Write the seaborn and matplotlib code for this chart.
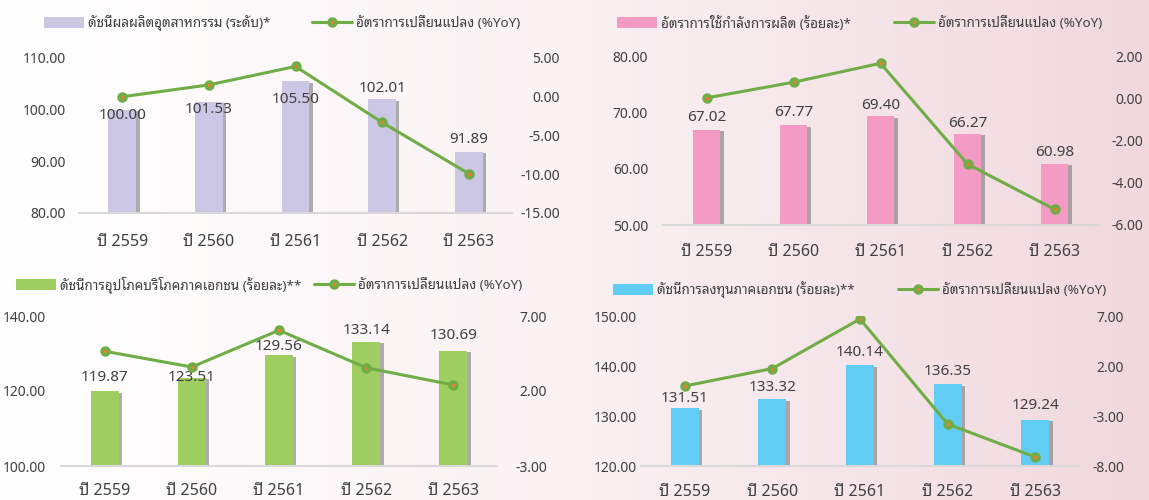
import numpy as np
import pandas as pd
import matplotlib
matplotlib.use("Agg")
import matplotlib.pyplot as plt
import matplotlib.patheffects as pe
from matplotlib.patches import Patch
from matplotlib.lines import Line2D
from matplotlib.colors import LinearSegmentedColormap
from matplotlib import font_manager as fm
import seaborn as sns

# ---------------- data ----------------
years = ["ปี 2559", "ปี 2560", "ปี 2561", "ปี 2562", "ปี 2563"]

ipi_level = [100.00, 101.53, 105.50, 102.01, 91.89]
ipi_yoy = [0.00, 1.53, 3.91, -3.31, -9.92]

capu_level = [67.02, 67.77, 69.40, 66.27, 60.98]
capu_yoy = [0.05, 0.80, 1.70, -3.10, -5.25]

pci_level = [119.87, 123.51, 129.56, 133.14, 130.69]
pci_yoy = [4.65, 3.60, 6.05, 3.55, 2.40]

pii_level = [131.51, 133.32, 140.14, 136.35, 129.24]
pii_yoy = [0.00, 1.75, 6.70, -3.80, -7.10]

bar_names = [
    "ดัชนีผลผลิตอุตสาหกรรม (ระดับ)*",
    "อัตราการใช้กำลังการผลิต (ร้อยละ)*",
    "ดัชนีการอุปโภคบริโภคภาคเอกชน (ร้อยละ)**",
    "ดัชนีการลงทุนภาคเอกชน (ร้อยละ)**",
]
line_name = "อัตราการเปลี่ยนแปลง (%YoY)"

left_ticks = [[80, 90, 100, 110], [50, 60, 70, 80], [100, 120, 140], [120, 130, 140, 150]]
right_ticks = [[-15, -10, -5, 0, 5], [-6, -4, -2, 0, 2], [-3, 2, 7], [-8, -3, 2, 7]]

# ---------------- style ----------------
sns.set_theme(style="white")
avail = {f.name for f in fm.fontManager.ttflist}
thai = next((f for f in ["Noto Sans Thai Looped", "Loma", "Noto Sans Thai", "Sarabun"] if f in avail), "Loma")
FAM = [f for f in ["Noto Sans", thai, "DejaVu Sans"] if f in avail]
plt.rcParams["font.family"] = FAM
plt.rcParams["axes.unicode_minus"] = False

GREEN = "#70ad47"
ORANGE = "#ed7d31"
TXT = "#404040"
bar_colors = ["#cbc7e4", "#f39bc4", "#9dce5f", "#62cdf4"]

W, H = 1149, 500
fig = plt.figure(figsize=(W / 100, H / 100), dpi=100)

# background gradient
bg = fig.add_axes([0, 0, 1, 1], zorder=-10)
grad = np.linspace(0, 1, 256)[None, :]
cmap = LinearSegmentedColormap.from_list("bg", ["#ffffff", "#faf1f3", "#f0d8de"])
bg.imshow(grad, aspect="auto", cmap=cmap, extent=[0, 1, 0, 1])
bg.set_axis_off()


def rect(l, r, t, b):
    return [l / W, 1 - b / H, (r - l) / W, (b - t) / H]


panels = [
    dict(level=ipi_level, yoy=ipi_yoy, rect=rect(79, 512, 58, 213), lpad=9.4, rpad=34.5, xpad=15,
         leg1=(44, 23), leg2=(312, 23), offs=[-4.3, -5.8, -13, 7.9, 8.6]),
    dict(level=capu_level, yoy=capu_yoy, rect=rect(663, 1098, 57, 225), lpad=10.8, rpad=32.5, xpad=14,
         leg1=(617, 23), leg2=(894, 23), offs=[8.6, 9.4, 7.9, 7.2, 7.9]),
    dict(level=pci_level, yoy=pci_yoy, rect=rect(61, 497, 316, 466), lpad=10.8, rpad=36, xpad=12,
         leg1=(16, 285), leg2=(314, 285), offs=[10, 0, 6.5, 7.9, 10.8]),
    dict(level=pii_level, yoy=pii_yoy, rect=rect(641, 1079, 316, 466), lpad=2.9, rpad=32.5, xpad=13,
         leg1=(613, 290), leg2=(898, 290), offs=[7.2, 8.6, 9.4, 9.4, 10]),
]

for i, p in enumerate(panels):
    df = pd.DataFrame({"year": years, "level": p["level"], "yoy": p["yoy"],
                       "pos": np.arange(len(years))})
    ax = fig.add_axes(p["rect"])
    ax.set_facecolor("none")
    sns.barplot(data=df, x="year", y="level", ax=ax, color=bar_colors[i], width=0.32,
                saturation=1, edgecolor="none")
    for patch in ax.patches:
        patch.set_path_effects([
            pe.SimplePatchShadow(offset=(2.5, -1.0), shadow_rgbFace="#6e6e6e", alpha=0.55),
            pe.Normal(),
        ])
    lt = left_ticks[i]
    ax.set_ylim(lt[0], lt[-1])
    ax.set_yticks(lt)
    ax.set_yticklabels([f"{v:.2f}" for v in lt])
    ax.set_xlim(-0.5, len(years) - 0.5)
    ax.set_xlabel("")
    ax.set_ylabel("")
    for s in ["top", "left", "right"]:
        ax.spines[s].set_visible(False)
    ax.spines["bottom"].set_color("#d9d9d9")
    ax.spines["bottom"].set_linewidth(1.5)
    ax.tick_params(axis="y", length=0, pad=p["lpad"], labelsize=10, labelcolor=TXT)
    ax.tick_params(axis="x", length=0, pad=p["xpad"], labelsize=11.5, labelcolor=TXT)

    for j, (v, o) in enumerate(zip(p["level"], p["offs"])):
        ax.annotate(f"{v:.2f}", xy=(j, v), xytext=(0, o), textcoords="offset points",
                    ha="center", va="center", fontsize=11, color=TXT, zorder=5)

    ax2 = ax.twinx()
    ax2.set_facecolor("none")
    sns.lineplot(data=df, x="pos", y="yoy", ax=ax2, color=GREEN, linewidth=2.2,
                 marker="o", markersize=5, markerfacecolor=ORANGE,
                 markeredgecolor=GREEN, markeredgewidth=2.5)
    rt = right_ticks[i]
    ax2.set_ylim(rt[0], rt[-1])
    ax2.set_yticks(rt)
    ax2.set_yticklabels([f"{v:.2f}" for v in rt])
    ax2.set_xlim(-0.5, len(years) - 0.5)
    ax2.set_ylabel("")
    ax2.set_xlabel("")
    for s in ax2.spines.values():
        s.set_visible(False)
    ax2.grid(False)
    ax.grid(False)
    ax2.tick_params(axis="y", length=0, pad=p["rpad"], labelsize=10, labelcolor=TXT)
    for lab in ax2.get_yticklabels():
        lab.set_horizontalalignment("right")

    h1 = Patch(facecolor=bar_colors[i], edgecolor="none")
    h2 = Line2D([0], [0], color=GREEN, linewidth=2.2, marker="o", markersize=5,
                markerfacecolor=ORANGE, markeredgecolor=GREEN, markeredgewidth=2.5)
    for h, name, (lx, ly) in [(h1, bar_names[i], p["leg1"]), (h2, line_name, p["leg2"])]:
        fig.legend([h], [name], loc="center left", bbox_to_anchor=(lx / W, 1 - ly / H),
                   frameon=False, fontsize=9.7, handlelength=3.0, handleheight=0.85,
                   handletextpad=0.3, borderpad=0, borderaxespad=0, labelcolor=TXT)

fig.savefig("out.png", dpi=100)
